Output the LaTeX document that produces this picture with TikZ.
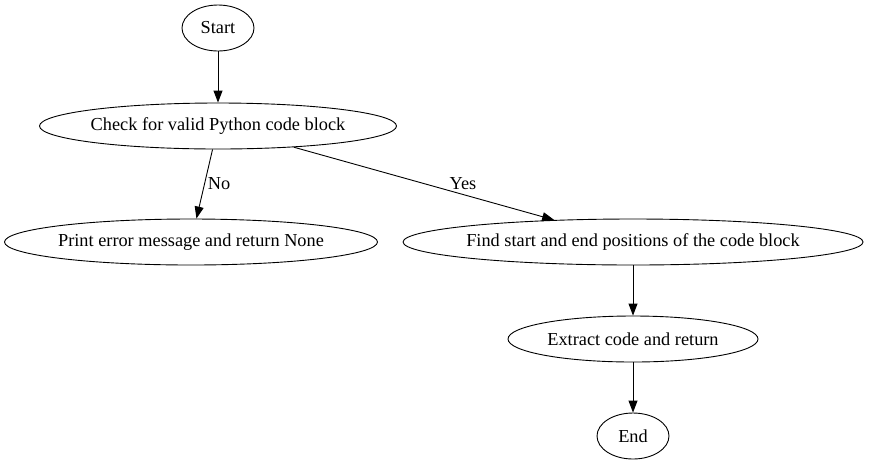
\documentclass[tikz,border=0pt]{standalone}
\usepackage{fontspec}
\setmainfont{Liberation Serif}
\usetikzlibrary{shapes.geometric,arrows.meta}
\newcommand{\zbox}[1]{\makebox[0pt]{#1}}
\begin{document}
\begin{tikzpicture}[x=1pt,y=-1pt,
  st/.style={ellipse,draw,line width=0.9pt,inner sep=0pt,minimum height=46pt,font=\fontsize{18.3pt}{21pt}\selectfont},
  ar/.style={draw,line width=0.9pt,-{Triangle[length=12pt,width=9pt]}},
  lab/.style={font=\fontsize{18.3pt}{21pt}\selectfont}]
\useasboundingbox (0,0) rectangle (869,467);
\node[st,minimum width=72pt] (start) at (218,28) {\zbox{Start}};
\node[st,minimum width=357pt] (check) at (218,126) {\zbox{Check for valid Python code block}};
\node[st,minimum width=373pt] (print) at (191,242) {\zbox{Print error message and return None}};
\node[st,minimum width=460pt] (find) at (633,242) {\zbox{Find start and end positions of the code block}};
\node[st,minimum width=250pt] (extract) at (633,339) {\zbox{Extract code and return}};
\node[st,minimum width=72pt] (end) at (633,436) {\zbox{End}};
\draw[ar] (start) -- (check);
\draw[ar] (check) -- (print);
\draw[ar] (check) -- (find);
\draw[ar] (find) -- (extract);
\draw[ar] (extract) -- (end);
\node[lab] (no) at (219,184) {No};
\node[lab] (yes) at (463,184) {Yes};
\end{tikzpicture}
\end{document}
